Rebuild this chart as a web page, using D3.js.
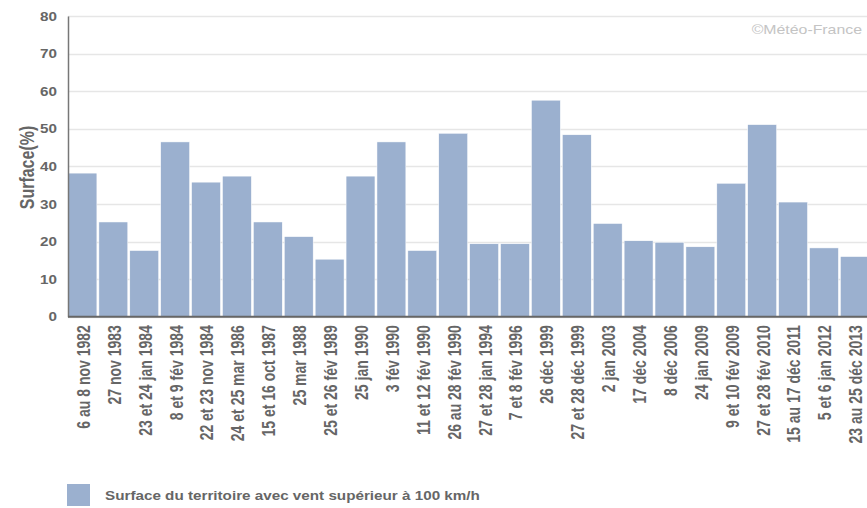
<!DOCTYPE html>
<html><head><meta charset="utf-8">
<script src="https://cdn.jsdelivr.net/npm/d3@7"></script>
<style>body{margin:0;background:#fff;overflow:hidden}svg{display:block}text{font-family:"Liberation Sans",Arial,sans-serif}</style>
</head><body>
<script>
const categories = ["6 au 8 nov 1982","27 nov 1983","23 et 24 jan 1984","8 et 9 fév 1984","22 et 23 nov 1984","24 et 25 mar 1986","15 et 16 oct 1987","25 mar 1988","25 et 26 fév 1989","25 jan 1990","3 fév 1990","11 et 12 fév 1990","26 au 28 fév 1990","27 et 28 jan 1994","7 et 8 fév 1996","26 déc 1999","27 et 28 déc 1999","2 jan 2003","17 déc 2004","8 déc 2006","24 jan 2009","9 et 10 fév 2009","27 et 28 fév 2010","15 au 17 déc 2011","5 et 6 jan 2012","23 au 25 déc 2013"];
const surface = [38.2,25.2,17.6,46.5,35.8,37.4,25.2,21.3,15.3,37.4,46.5,17.6,48.8,19.4,19.4,57.6,48.4,24.8,20.2,19.8,18.6,35.5,51.1,30.5,18.3,16.0];
const yTicks = [0,10,20,30,40,50,60,70,80];
const seriesName = "Surface du territoire avec vent supérieur à 100 km/h";
const yTitle = "Surface(%)";
const credit = "Météo-France";

const W=867,H=508,SX=1.27;
const FONT="Liberation Sans, Arial, sans-serif";
const svg=d3.select("body").append("svg").attr("width",W).attr("height",H);
const x=d3.scaleBand().domain(categories).range([68,869.3]).paddingInner(0.065).paddingOuter(0);
const y=d3.scaleLinear().domain([0,80]).range([316.7,16]);

// grid
svg.append("g").selectAll("line").data(yTicks).join("line")
 .attr("x1",68).attr("x2",W).attr("y1",d=>Math.round(y(d))+0.5).attr("y2",d=>Math.round(y(d))+0.5)
 .attr("stroke","#e6e6e6").attr("stroke-width",1.3);

// bars
svg.append("g").selectAll("rect").data(surface).join("rect")
 .attr("x",(d,i)=>x(categories[i])).attr("width",x.bandwidth())
 .attr("y",d=>y(d)).attr("height",d=>y(0)-y(d))
 .attr("fill","#9bb0cf").attr("stroke","#fff").attr("stroke-width",0.5);

// y axis
const ya=svg.append("g").attr("transform","translate(68,0)").call(d3.axisLeft(y).tickValues(yTicks).tickSize(0).tickPadding(11));
ya.select(".domain").attr("stroke","#777").attr("stroke-width",1.5);
ya.selectAll(".tick text").attr("fill","#666").attr("font-size","12px").attr("font-weight","bold").attr("font-family",FONT)
 .attr("x",0).attr("dy","0.35em").attr("text-anchor","end")
 .attr("transform",`translate(-11,0) scale(${SX},1)`);

// x axis
const xa=svg.append("g").attr("transform","translate(0,"+y(0)+")").call(d3.axisBottom(x).tickSize(0).tickPadding(0));
xa.select(".domain").attr("stroke","#666").attr("stroke-width",2).attr("d","M68,0H"+W);
xa.selectAll(".tick text").attr("fill","#666").attr("font-size","14px").attr("font-weight","bold")
 .attr("font-family",FONT).attr("y",0).attr("x",0)
 .attr("text-anchor","end").attr("dy","0.36em")
 .attr("transform",`translate(1,8.5) scale(${SX},1) rotate(-90)`);

// y title
svg.append("text").attr("transform",`translate(27,167.5) scale(${SX},1) rotate(-90)`).attr("text-anchor","middle").attr("dy","0.36em")
 .attr("fill","#666").attr("font-size","16px").attr("font-weight","bold").text(yTitle);

// credit
svg.append("text").attr("transform",`translate(862,34) scale(${SX},1)`).attr("text-anchor","end").attr("fill","#c4c4c4").attr("font-size","12.5px").text("\u00A9"+credit);

// legend
svg.append("rect").attr("x",67).attr("y",484).attr("width",23).attr("height",22).attr("fill","#9bb0cf");
svg.append("text").attr("transform",`translate(105,500) scale(${SX},1)`).attr("fill","#666").attr("font-size","12px").attr("font-weight","bold").text(seriesName);
</script>
</body></html>
